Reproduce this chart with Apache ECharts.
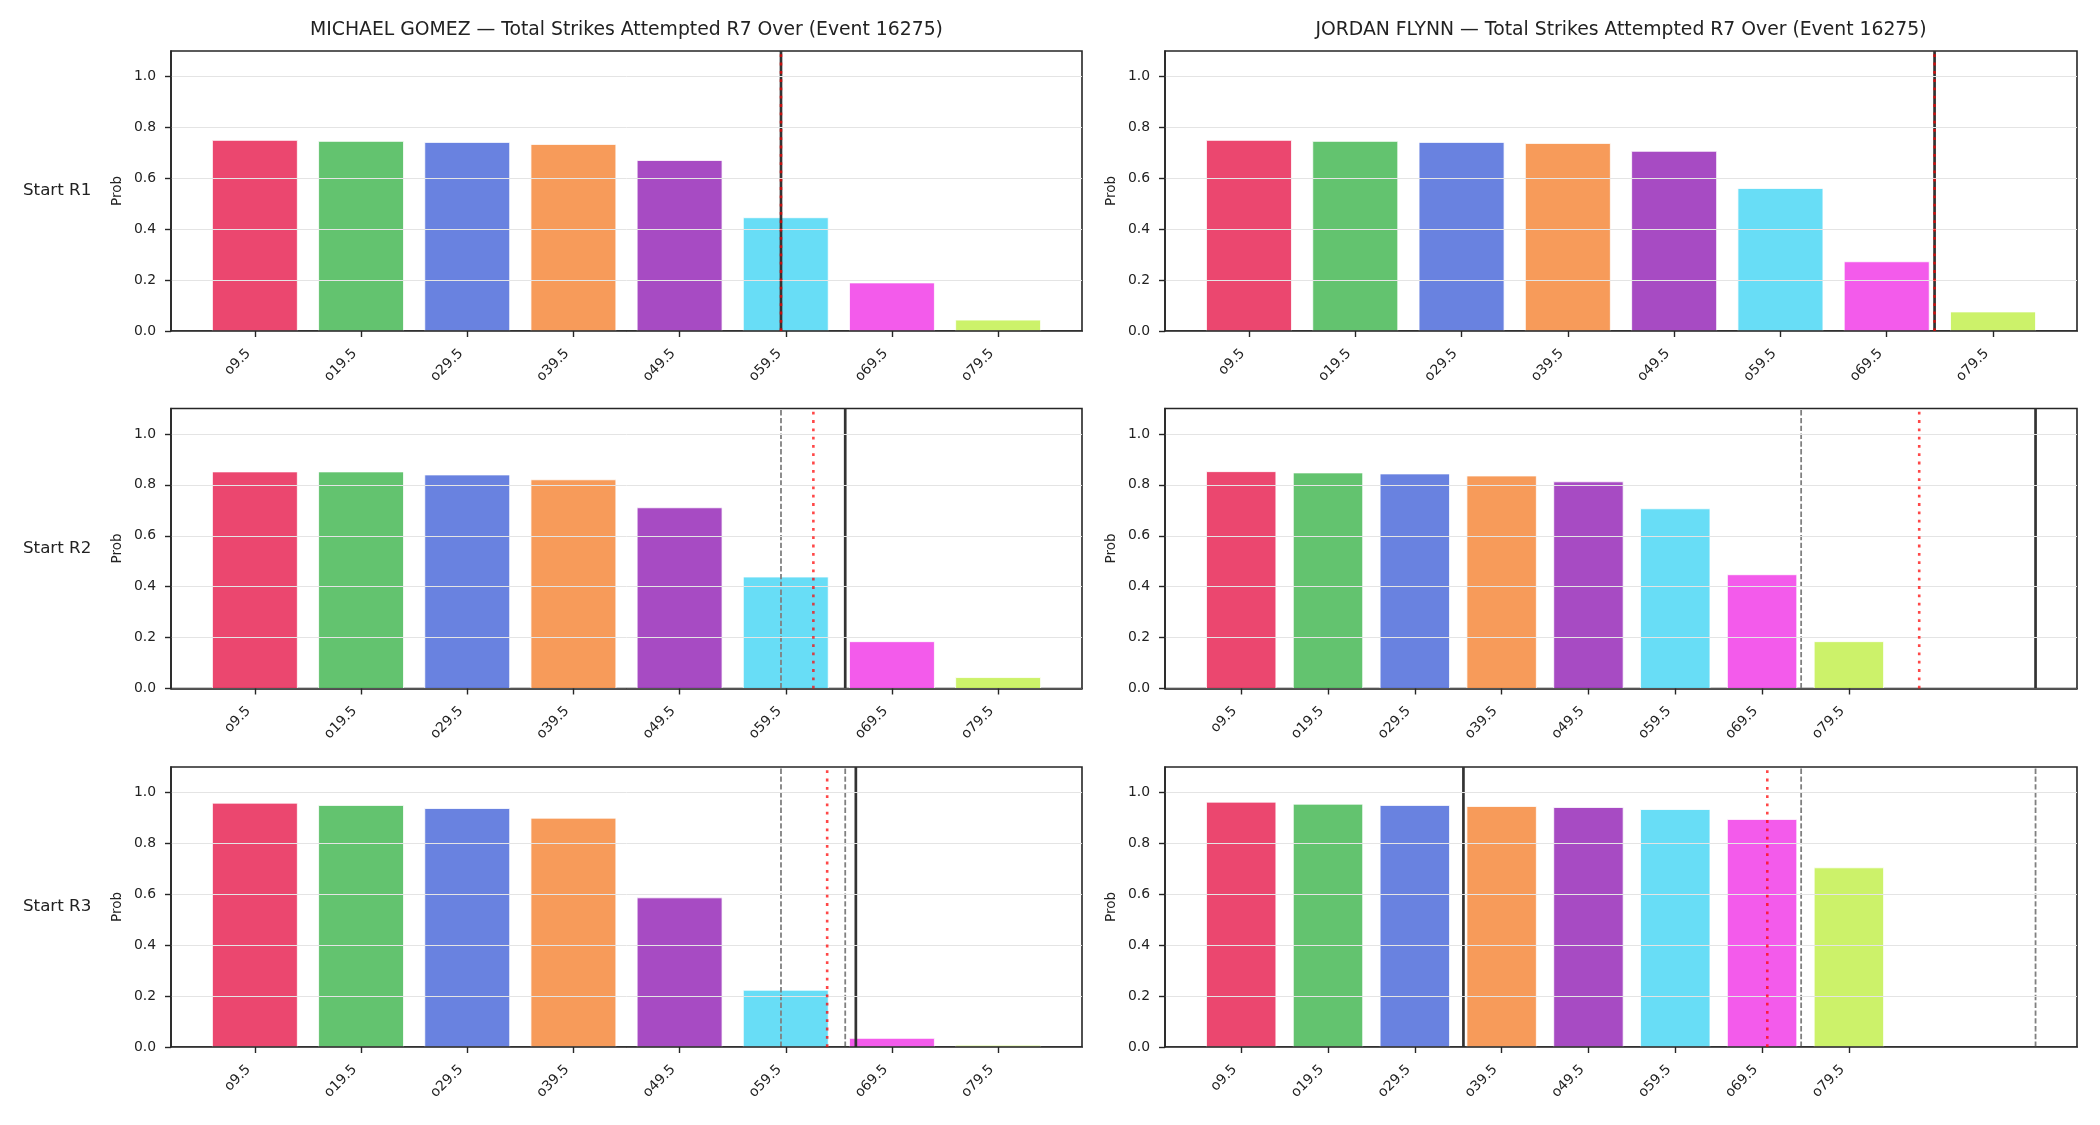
<!DOCTYPE html>
<html>
<head>
<meta charset="utf-8">
<title>Total Strikes Attempted R7 Over (Event 16275)</title>
<script src="https://cdn.jsdelivr.net/npm/echarts@6.0.0/dist/echarts.min.js"></script>
<style>
  html, body { margin: 0; padding: 0; background: #fff; }
  #chart { width: 2100px; height: 1125px; }
</style>
</head>
<body>
<div id="chart"></div>
<script>
// categories (over lines) and bar colours
const categories = ['o9.5', 'o19.5', 'o29.5', 'o39.5', 'o49.5', 'o59.5', 'o69.5', 'o79.5']
const barColors = ['#e6194b', '#3cb44b', '#4363d8', '#f58231', '#911eb4', '#42d4f4', '#f032e6', '#bfef45']
const yTicks = [0, 0.2, 0.4, 0.6, 0.8, 1.0]
const rowNames = ['Start R1', 'Start R2', 'Start R3']
const fighters = ['MICHAEL GOMEZ', 'JORDAN FLYNN']

// probabilities, one array per start round
const gomezR1 = [0.749, 0.745, 0.741, 0.733, 0.670, 0.445, 0.189, 0.043]
const gomezR2 = [0.851, 0.851, 0.839, 0.820, 0.710, 0.438, 0.184, 0.043]
const gomezR3 = [0.958, 0.949, 0.937, 0.899, 0.586, 0.223, 0.034, 0.007]
const flynnR1 = [0.749, 0.745, 0.741, 0.737, 0.706, 0.560, 0.272, 0.075]
const flynnR2 = [0.852, 0.847, 0.843, 0.835, 0.812, 0.706, 0.447, 0.184]
const flynnR3 = [0.962, 0.954, 0.949, 0.945, 0.941, 0.933, 0.894, 0.704]

// vertical reference lines, in bar-index units
const gomezSolid = [4.955, 5.56, 5.66]
const gomezDotted = [4.955, 5.26, 5.39]
const gomezDashed = [[], [4.955], [4.955, 5.56]]
const flynnSolid = [6.45, 9.15, 2.56]
const flynnDotted = [6.45, 7.81, 6.06]
const flynnDashed = [[], [6.45], [6.45, 9.15]]

const values = [[gomezR1, gomezR2, gomezR3], [flynnR1, flynnR2, flynnR3]]
const solids = [gomezSolid, flynnSolid]
const dotteds = [gomezDotted, flynnDotted]
const dasheds = [gomezDashed, flynnDashed]

// layout
const colLeft = [171, 1165]
const colWidth = [911, 912]
const rowTop = [51, 408.5, 767]
const panelHeight = 280
const yMax = 1.1
const font = 'DejaVu Sans'
const ink = '#222222'
const spine = '#262626'

function hexToRgba(hex, a) {
  const n = parseInt(hex.slice(1), 16)
  return 'rgba(' + (n >> 16) + ',' + ((n >> 8) & 255) + ',' + (n & 255) + ',' + a + ')'
}

const chart = echarts.init(document.getElementById('chart'), null, { renderer: 'canvas' })

const grids = []
const xAxes = []
const yAxes = []
const series = []
const graphics = []

for (let c = 0; c < 2; c++) {
  for (let r = 0; r < 3; r++) {
    const i = grids.length
    const vals = values[c][r]
    const lines = dasheds[c][r].concat([solids[c][r], dotteds[c][r]])
    // matplotlib-like autoscale: bars span -0.4..7.4, plus the lines, 5% margin
    const lo = -0.4
    const hi = Math.max(categories.length - 1 + 0.4, ...lines)
    const pad = (hi - lo) * 0.05

    grids.push({
      left: colLeft[c],
      top: rowTop[r],
      width: colWidth[c],
      height: panelHeight,
      show: true,
      borderColor: spine,
      borderWidth: 1.6,
      backgroundColor: 'transparent'
    })

    xAxes.push({
      gridIndex: i,
      type: 'value',
      min: lo - pad,
      max: hi + pad,
      z: 5,
      axisLine: { show: true, onZero: false, lineStyle: { color: spine, width: 1.6 } },
      axisTick: {
        show: true,
        length: 6,
        customValues: categories.map((d, k) => k),
        lineStyle: { color: spine, width: 1.4 }
      },
      axisLabel: {
        customValues: categories.map((d, k) => k),
        formatter: v => categories[Math.round(v)],
        rotate: 45,
        margin: 14,
        padding: [0, 9, 0, 0],
        fontSize: 13.9,
        fontFamily: font,
        color: ink
      },
      splitLine: { show: false }
    })

    yAxes.push({
      gridIndex: i,
      type: 'value',
      min: 0,
      max: yMax,
      z: 5,
      name: 'Prob',
      nameLocation: 'middle',
      nameGap: 47,
      nameTextStyle: { fontSize: 13.5, fontFamily: font, color: ink },
      axisLine: { show: true, onZero: false, lineStyle: { color: spine, width: 1.6 } },
      axisTick: {
        show: true,
        length: 6,
        customValues: yTicks,
        lineStyle: { color: spine, width: 1.4 }
      },
      axisLabel: {
        customValues: yTicks,
        formatter: v => v.toFixed(1),
        margin: 15,
        fontSize: 13.9,
        fontFamily: font,
        color: ink
      },
      splitLine: { show: true, lineStyle: { color: '#e4e4e4', width: 1 } }
    })

    // bars, 0.8 index units wide
    series.push({
      type: 'custom',
      xAxisIndex: i,
      yAxisIndex: i,
      clip: true,
      z: 2,
      encode: { x: 0, y: 1 },
      data: vals.map((v, k) => [k, v]),
      renderItem: function (params, api) {
        const x = api.value(0)
        const y = api.value(1)
        const p0 = api.coord([x - 0.4, y])
        const p1 = api.coord([x + 0.4, 0])
        return {
          type: 'rect',
          shape: { x: p0[0], y: p0[1], width: p1[0] - p0[0], height: p1[1] - p0[1] },
          style: {
            fill: hexToRgba(barColors[params.dataIndex], 0.8),
            stroke: '#ffffff',
            lineWidth: 0.8
          }
        }
      }
    })

    const addLine = (x, color, width, type, z) => {
      series.push({
        type: 'line',
        xAxisIndex: i,
        yAxisIndex: i,
        data: [[x, 0], [x, yMax]],
        symbol: 'none',
        silent: true,
        z: z,
        lineStyle: { color: color, width: width, type: type, cap: 'butt' }
      })
    }
    dasheds[c][r].forEach(x => addLine(x, '#808080', 1.8, [5.4, 2.4], 3))
    addLine(solids[c][r], '#333333', 2.7, 'solid', 4)
    addLine(dotteds[c][r], 'rgba(255,0,0,0.72)', 2.6, [2.8, 5.5], 5)

    if (r === 0) {
      graphics.push({
        type: 'text',
        x: colLeft[c] + colWidth[c] / 2,
        y: 30,
        style: {
          text: fighters[c] + ' \u2014 Total Strikes Attempted R7 Over (Event 16275)',
          fontSize: 18.8,
          fontFamily: font,
          fill: ink,
          align: 'center',
          verticalAlign: 'middle'
        }
      })
    }
    if (c === 0) {
      graphics.push({
        type: 'text',
        x: 23,
        y: rowTop[r] + panelHeight / 2,
        style: {
          text: rowNames[r],
          fontSize: 16.7,
          fontFamily: font,
          fill: ink,
          align: 'left',
          verticalAlign: 'middle'
        }
      })
    }
  }
}

chart.setOption({
  backgroundColor: '#ffffff',
  animation: false,
  textStyle: { fontFamily: font },
  grid: grids,
  xAxis: xAxes,
  yAxis: yAxes,
  series: series,
  graphic: graphics
})
</script>
</body>
</html>
